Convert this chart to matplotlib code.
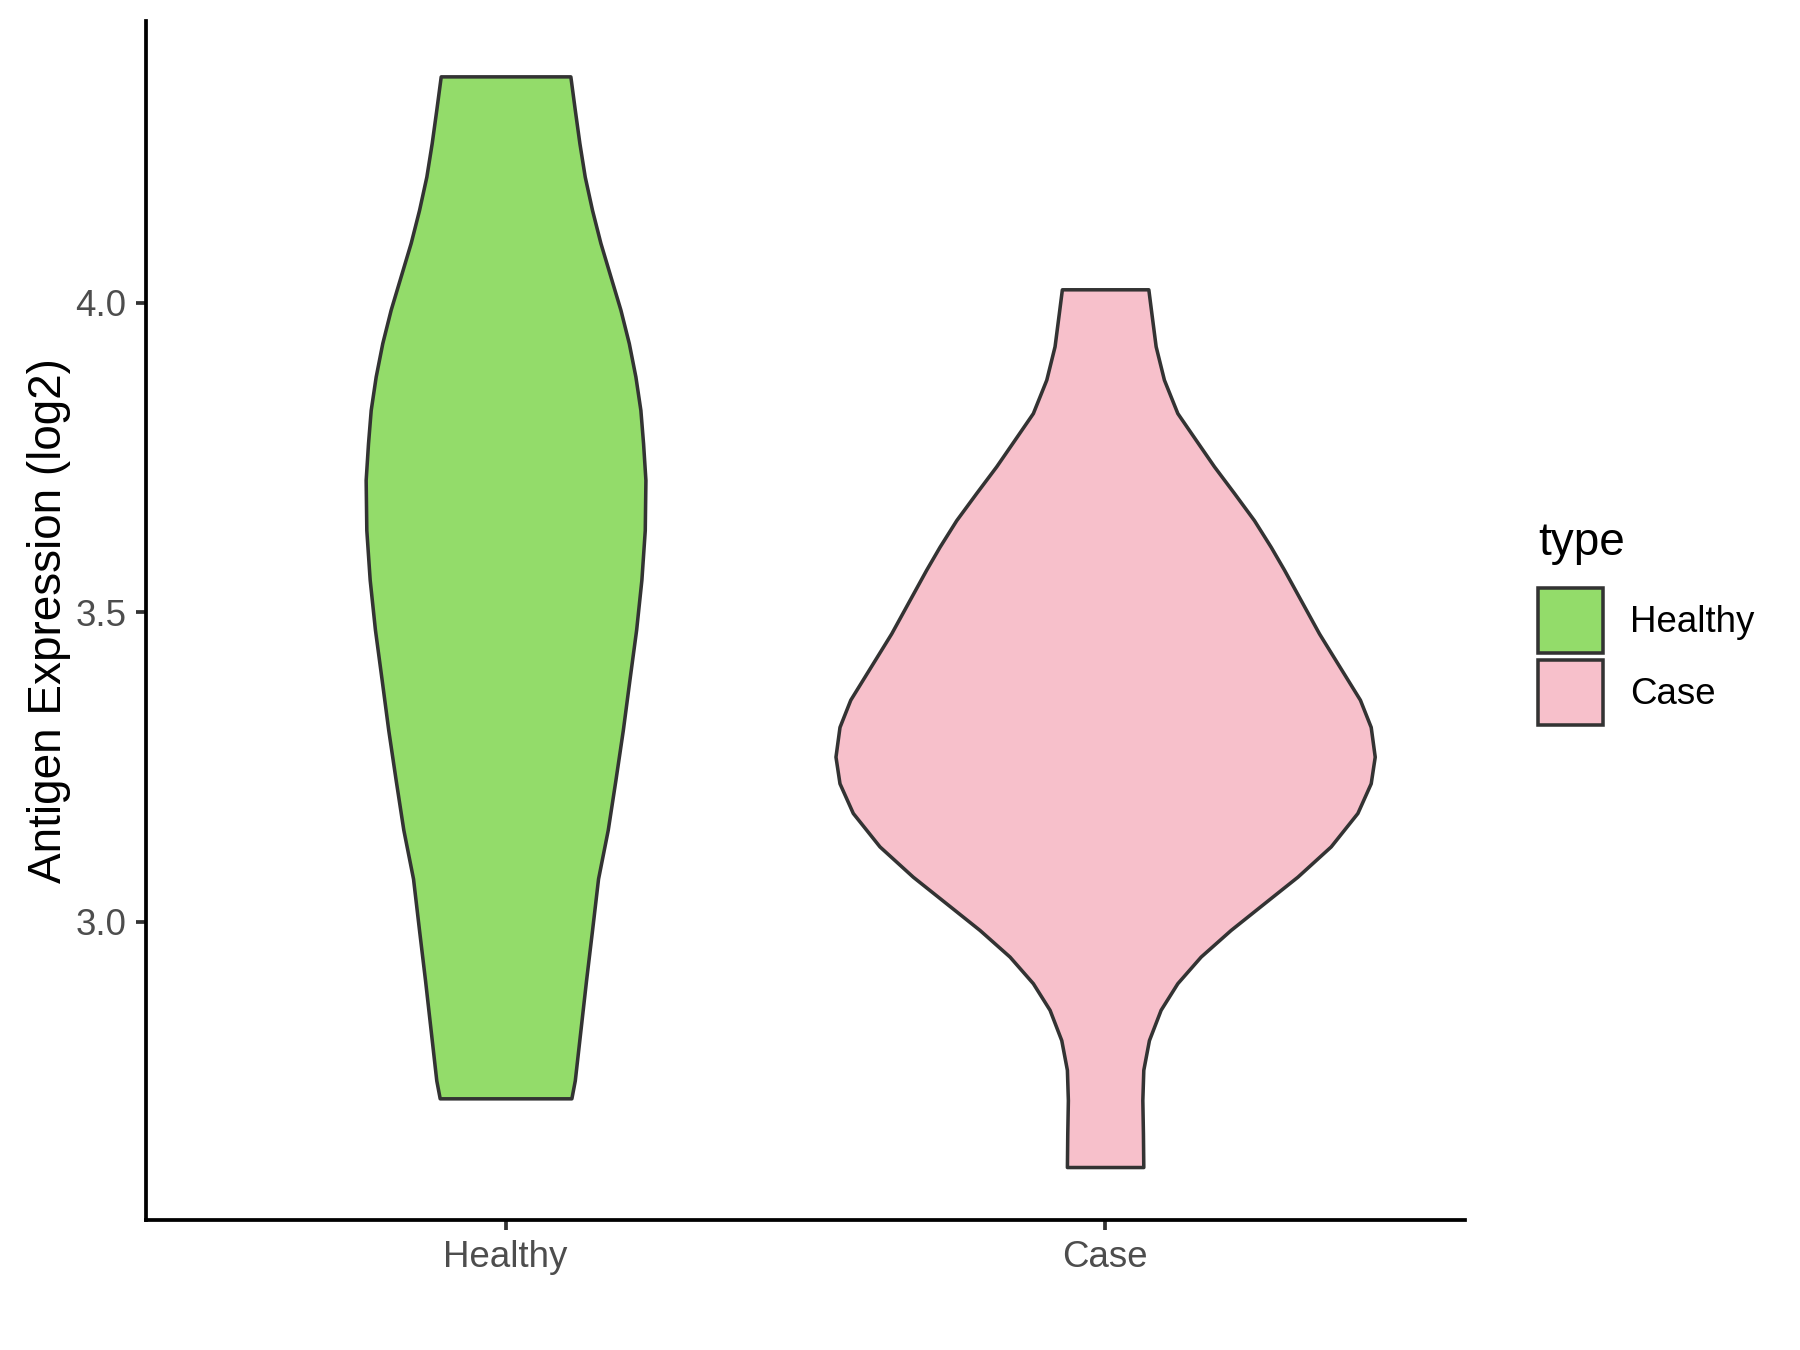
import matplotlib
matplotlib.use("Agg")
import matplotlib.pyplot as plt
from matplotlib.patches import Patch
import numpy as np

# groups and colours
groups = ["Healthy", "Case"]
fills = ["#93DC6A", "#F7C0CB"]

# violin outlines: y value and half-width (x units)
healthy_y = [4.366, 4.312, 4.258, 4.204, 4.150, 4.097, 4.043, 3.989, 3.935, 3.881,
             3.827, 3.773, 3.714, 3.633, 3.553, 3.472, 3.391, 3.310, 3.229, 3.149,
             3.070, 2.987, 2.906, 2.825, 2.744, 2.715]
healthy_hw = [0.1081, 0.1155, 0.1232, 0.1321, 0.1443, 0.1582, 0.1749, 0.1916, 0.2056, 0.2166,
              0.2249, 0.2294, 0.2333, 0.2322, 0.2266, 0.2178, 0.2066, 0.1956, 0.1832, 0.1705,
              0.1543, 0.1443, 0.1343, 0.1249, 0.1155, 0.1098]

case_y = [4.022, 3.984, 3.930, 3.876, 3.822, 3.779, 3.736, 3.693, 3.649, 3.606,
          3.569, 3.520, 3.466, 3.418, 3.359, 3.315, 3.267, 3.224, 3.176, 3.122,
          3.073, 3.030, 2.987, 2.944, 2.901, 2.858, 2.809, 2.761, 2.712, 2.658, 2.604]
case_hw = [0.0721, 0.0771, 0.0843, 0.0981, 0.1205, 0.1510, 0.1816, 0.2149, 0.2483, 0.2762,
           0.2984, 0.3262, 0.3568, 0.3874, 0.4250, 0.4430, 0.4497, 0.4430, 0.4208, 0.3763,
           0.3207, 0.2650, 0.2094, 0.1594, 0.1205, 0.0926, 0.0731, 0.0637, 0.0621, 0.0631, 0.0637]

yticks = [3.0, 3.5, 4.0]

plt.rcParams["font.family"] = ["Liberation Sans", "DejaVu Sans"]

fig = plt.figure(figsize=(6, 4.5), dpi=300)
ax = fig.add_axes([0.081, 0.0961, 0.8138 - 0.081, 0.9847 - 0.0961])

outlines = [(healthy_y, healthy_hw), (case_y, case_hw)]
for i, ((ys, hw), col) in enumerate(zip(outlines, fills)):
    pos = i + 1
    ys = np.array(ys)
    hw = np.array(hw)
    ax.fill_betweenx(ys, pos - hw, pos + hw, facecolor=col,
                     edgecolor="#333333", linewidth=0.85, joinstyle="round")

ax.set_xlim(0.4, 2.6)
ax.set_ylim(2.518, 4.456)
ax.set_xticks([1, 2])
ax.set_xticklabels(groups)
ax.set_yticks(yticks)
ax.set_yticklabels([f"{v:.1f}" for v in yticks])

for side in ["top", "right"]:
    ax.spines[side].set_visible(False)
for side in ["left", "bottom"]:
    ax.spines[side].set_linewidth(0.9)
    ax.spines[side].set_color("black")
    ax.spines[side].set_capstyle("projecting")
ax.tick_params(axis="both", length=2.5, width=0.9, color="#333333",
               labelsize=8.8, labelcolor="#4D4D4D", pad=2.2)

ax.set_ylabel("Antigen Expression (log2)", fontsize=11, color="black", labelpad=1)

handles = [Patch(facecolor=c, edgecolor="#333333", linewidth=0.85, label=g)
           for g, c in zip(groups, fills)]
leg = fig.legend(handles=handles, title="type", loc="center left",
                 bbox_to_anchor=(0.8443, 0.5385), frameon=False,
                 fontsize=8.8, title_fontsize=11, handlelength=1.77,
                 handleheight=2.35, labelspacing=0.2, handletextpad=0.75,
                 borderpad=0)
leg._legend_box.align = "left"
leg._legend_box.sep = 5.5

fig.savefig("out.png", dpi=300)
